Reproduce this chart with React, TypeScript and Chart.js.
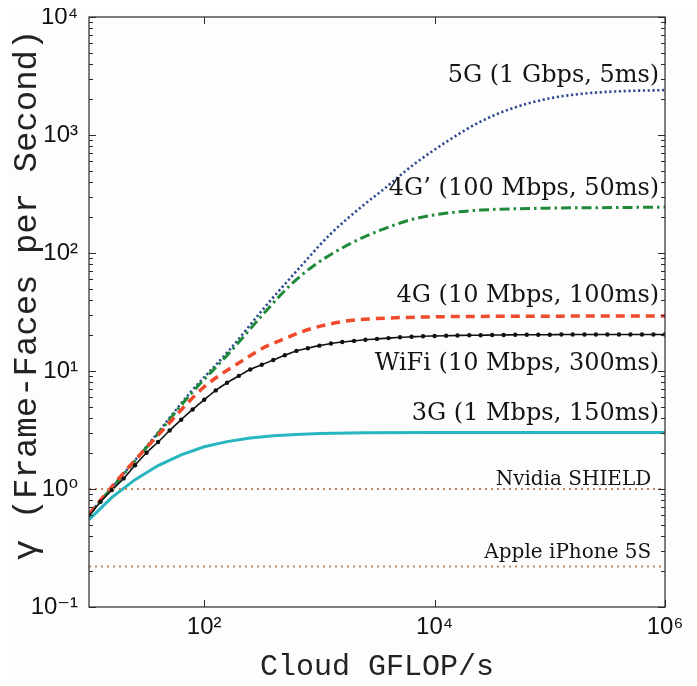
import React, { useEffect, useRef } from "react";
import { Chart, registerables } from "chart.js";

Chart.register(...registerables);

// ---------- data ----------
const g5X = [10, 34, 75, 168, 326, 644, 1250, 2420, 3390, 6560, 13000, 25100, 48600, 96200, 186000, 414000, 1000000];
const g5Y = [0.61, 2.5, 6.5, 15.3, 33.6, 71.6, 145, 255, 330, 560, 890, 1300, 1700, 2030, 2230, 2350, 2400];

const g4pX = [10, 34, 75, 168, 326, 560, 887, 1750, 3390, 6560, 13000, 25100, 96200, 414000, 1000000];
const g4pY = [0.61, 2.45, 6.25, 14.5, 30.4, 53.5, 77.7, 116.7, 156, 194, 218, 231, 240, 243, 245];

const g4X = [10, 14.9, 22.3, 32.1, 46.5, 69.3, 96.6, 144, 223, 321, 486, 684, 1020, 1860, 3610, 7110, 13800, 45700, 200000, 1000000];
const g4Y = [0.61, 0.98, 1.545, 2.28, 3.37, 5.15, 7.14, 9.55, 12.5, 15.6, 18.6, 21.3, 24.0, 26.8, 28.0, 28.6, 28.9, 29.1, 29.2, 29.3];

const wifiX = [10, 12.6, 15.8, 20, 25.1, 31.6, 39.8, 50.1, 63.1, 79.4, 100, 126, 158, 200, 251, 316, 398, 501, 631, 794,
  1000, 1260, 1580, 2000, 2510, 3160, 3980, 5010, 6310, 7940, 10000, 12600, 15800, 20000, 25100, 31600, 39800, 50100, 63100, 79400,
  100000, 126000, 158000, 200000, 251000, 316000, 398000, 501000, 631000, 794000, 1000000];
const wifiY = [0.59, 0.78, 0.98, 1.23, 1.59, 2.03, 2.5, 3.13, 3.86, 4.72, 5.7, 6.85, 7.95, 9.1, 10.3, 11.3, 12.4, 13.6, 14.8, 15.6,
  16.4, 17.1, 17.6, 18.0, 18.4, 18.7, 19.0, 19.3, 19.5, 19.7, 19.8, 19.9, 20.0, 20.1, 20.1, 20.2, 20.2, 20.3, 20.3, 20.3,
  20.3, 20.4, 20.4, 20.4, 20.4, 20.4, 20.4, 20.4, 20.4, 20.4, 20.4];

const g3X = [10, 15.8, 25.1, 39.8, 63.1, 100, 158, 251, 398, 631, 1000, 2510, 10000, 1000000];
const g3Y = [0.55, 0.85, 1.2, 1.58, 1.95, 2.28, 2.52, 2.7, 2.83, 2.9, 2.95, 2.99, 3.01, 3.01];

const seriesLabels = ["5G (1 Gbps, 5ms)", "4G\u2019 (100 Mbps, 50ms)", "4G (10 Mbps, 100ms)", "WiFi (10 Mbps, 300ms)", "3G (1 Mbps, 150ms)"];
const seriesLabelY = [2800, 310, 38.4, 10.2, 3.84];
const seriesLabelX = 890000;

const deviceNames = ["Nvidia SHIELD", "Apple iPhone 5S"];
const deviceValues = [1.0, 0.22];
const deviceLabelY = [1.08, 0.26];
const deviceLabelX = 760000;

const xMin = 10;
const xMax = 1000000;
const yMin = 0.1;
const yMax = 10000;
const xTickValues = [100, 10000, 1000000];
const yMajorTicks = [0.1, 1, 10, 100, 1000, 10000];
const yMinorMultipliers = [2, 3, 4, 5, 6, 7, 8, 9];

const xTitle = "Cloud GFLOP/s";
const yTitle = "\u03b3 (Frame-Faces per Second)";

// ---------- helpers ----------
const SUP: Record<string, string> = {
  "-": "\u207b", "0": "\u2070", "1": "\u00b9", "2": "\u00b2", "3": "\u00b3",
  "4": "\u2074", "5": "\u2075", "6": "\u2076", "7": "\u2077", "8": "\u2078", "9": "\u2079",
};
const isDecade = (v: number) => Math.abs(Math.log10(v) - Math.round(Math.log10(v))) < 1e-6;
const powLabel = (v: number) => {
  if (!isDecade(v)) return "";
  const e = String(Math.round(Math.log10(v)));
  return "10" + e.split("").map((c) => SUP[c]).join("");
};
const pts = (xs: number[], ys: number[]) => xs.map((x, i) => ({ x, y: ys[i] }));

const yTickValues: number[] = [];
yMajorTicks.forEach((m, i) => {
  yTickValues.push(m);
  if (i < yMajorTicks.length - 1) yMinorMultipliers.forEach((k) => yTickValues.push(m * k));
});

const SERIF = "'DejaVu Serif', 'Liberation Serif', serif";
const SANS = "'Liberation Sans', 'DejaVu Sans', Arial, sans-serif";
const MONO = "'Liberation Mono', 'Courier New', 'DejaVu Sans Mono', monospace";

const framePlugin = {
  id: "frameAndNotes",
  afterDatasetsDraw(chart: any) {
    const { ctx, chartArea: a, scales } = chart;
    const xs = scales.x;
    const ys = scales.y;
    ctx.save();
    // annotations
    ctx.fillStyle = "#141414";
    ctx.textAlign = "right";
    ctx.textBaseline = "alphabetic";
    ctx.font = `24px ${SERIF}`;
    seriesLabels.forEach((t, i) => {
      ctx.fillText(t, xs.getPixelForValue(seriesLabelX), ys.getPixelForValue(seriesLabelY[i]));
    });
    ctx.font = `20px ${SERIF}`;
    deviceNames.forEach((t, i) => {
      ctx.fillText(t, xs.getPixelForValue(deviceLabelX), ys.getPixelForValue(deviceLabelY[i]));
    });
    // frame
    ctx.strokeStyle = "#2a2a2a";
    ctx.lineWidth = 1.2;
    ctx.strokeRect(a.left, a.top, a.right - a.left, a.bottom - a.top);
    // inward ticks
    ctx.lineWidth = 1;
    ctx.beginPath();
    ys.ticks.forEach((t: any) => {
      const y = Math.round(ys.getPixelForValue(t.value)) + 0.5;
      const len = isDecade(t.value) ? 7 : 4;
      ctx.moveTo(a.left, y);
      ctx.lineTo(a.left + len, y);
      ctx.moveTo(a.right, y);
      ctx.lineTo(a.right - len, y);
    });
    xs.ticks.forEach((t: any) => {
      const x = Math.round(xs.getPixelForValue(t.value)) + 0.5;
      ctx.moveTo(x, a.bottom);
      ctx.lineTo(x, a.bottom - 7);
      ctx.moveTo(x, a.top);
      ctx.lineTo(x, a.top + 7);
    });
    ctx.stroke();
    // y axis title (rotated)
    ctx.translate(a.left - 62, a.top + 0.471 * (a.bottom - a.top));
    ctx.rotate(-Math.PI / 2);
    ctx.textAlign = "center";
    ctx.textBaseline = "middle";
    ctx.fillStyle = "#222";
    ctx.font = `34px ${MONO}`;
    ctx.fillText(yTitle, 0, 0);
    ctx.restore();
  },
};

export default function App() {
  const ref = useRef<HTMLCanvasElement | null>(null);

  useEffect(() => {
    if (!ref.current) return;
    const deviceSets = deviceNames.map((name, i) => ({
      label: name,
      data: pts([xMin, xMax], [deviceValues[i], deviceValues[i]]),
      borderColor: "#c4865c",
      borderWidth: 2,
      borderDash: [2, 4],
      pointRadius: 0,
      fill: false,
    }));
    const chart = new Chart(ref.current, {
      type: "line",
      data: {
        datasets: [
          ...deviceSets,
          {
            label: seriesLabels[4],
            data: pts(g3X, g3Y),
            borderColor: "#27b6bf",
            borderWidth: 3,
            pointRadius: 0,
            tension: 0,
          },
          {
            label: seriesLabels[3],
            data: pts(wifiX, wifiY),
            borderColor: "#111111",
            borderWidth: 1.6,
            pointRadius: 2.2,
            pointBorderWidth: 0,
            pointBackgroundColor: "#111111",
            cubicInterpolationMode: "monotone",
          },
          {
            label: seriesLabels[2],
            data: pts(g4X, g4Y),
            borderColor: "#ef4a2c",
            borderWidth: 3.5,
            borderDash: [9, 6],
            pointRadius: 0,
            cubicInterpolationMode: "monotone",
          },
          {
            label: seriesLabels[1],
            data: pts(g4pX, g4pY),
            borderColor: "#1f8b3a",
            borderWidth: 3,
            borderDash: [10, 4, 2.5, 4],
            pointRadius: 0,
            cubicInterpolationMode: "monotone",
          },
          {
            label: seriesLabels[0],
            data: pts(g5X, g5Y),
            borderColor: "#2d4a92",
            borderWidth: 2.6,
            borderDash: [2.2, 2.6],
            pointRadius: 0,
            cubicInterpolationMode: "monotone",
          },
        ],
      } as any,
      options: {
        animation: false,
        responsive: false,
        layout: { padding: { top: 9, right: 24, bottom: 0, left: 0 } },
        plugins: { legend: { display: false }, tooltip: { enabled: false } },
        scales: {
          x: {
            type: "logarithmic",
            min: xMin,
            max: xMax,
            grid: { display: false, drawTicks: false },
            border: { display: false },
            afterBuildTicks: (s: any) => {
              s.ticks = xTickValues.map((v) => ({ value: v }));
            },
            afterFit: (s: any) => {
              s.height = 71;
              s.paddingLeft = 0;
              s.paddingRight = 0;
            },
            ticks: {
              autoSkip: false,
              maxRotation: 0,
              padding: 6,
              color: "#111",
              font: { family: SANS, size: 24 },
              callback: (v: any) => powLabel(Number(v)),
            },
            title: {
              display: true,
              text: xTitle,
              color: "#222",
              padding: 0,
              font: { family: MONO, size: 30, lineHeight: 0.75 },
            },
          },
          y: {
            type: "logarithmic",
            min: yMin,
            max: yMax,
            grid: { display: false, drawTicks: false },
            border: { display: false },
            afterBuildTicks: (s: any) => {
              s.ticks = yTickValues.map((v) => ({ value: v }));
            },
            afterFit: (s: any) => {
              s.width = 81;
              s.paddingTop = 0;
              s.paddingBottom = 0;
            },
            ticks: {
              autoSkip: false,
              padding: 11,
              color: "#111",
              font: { family: SANS, size: 24 },
              callback: (v: any) => powLabel(Number(v)),
            },
            title: { display: false },
          },
        },
      } as any,
      plugins: [framePlugin],
    });
    return () => chart.destroy();
  }, []);

  return (
    <div style={{ width: 681, height: 670, background: "#fdfdfd" }}>
      <canvas ref={ref} width={681} height={670} style={{ display: "block" }} />
    </div>
  );
}
